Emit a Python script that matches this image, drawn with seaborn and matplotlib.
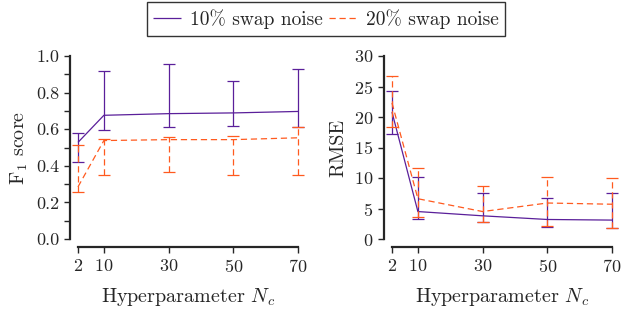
import numpy as np
import pandas as pd
import matplotlib
matplotlib.use("Agg")
import matplotlib.pyplot as plt
import seaborn as sns
from matplotlib.ticker import MultipleLocator, FormatStrFormatter

# hyperparameter values
n_c = [2, 10, 30, 50, 70]

# F1 score, mean and error bar ends
f1_10 = [0.528, 0.676, 0.685, 0.689, 0.697]
f1_10_lo = [0.422, 0.595, 0.613, 0.616, 0.612]
f1_10_hi = [0.578, 0.916, 0.958, 0.865, 0.931]
f1_20 = [0.285, 0.538, 0.543, 0.543, 0.553]
f1_20_lo = [0.256, 0.347, 0.364, 0.349, 0.350]
f1_20_hi = [0.513, 0.549, 0.558, 0.564, 0.614]

# RMSE, mean and error bar ends
rmse_10 = [20.8, 4.5, 3.8, 3.2, 3.1]
rmse_10_lo = [17.2, 3.3, 2.8, 1.9, 1.85]
rmse_10_hi = [24.2, 10.2, 7.6, 6.7, 7.5]
rmse_20 = [22.3, 6.6, 4.5, 5.9, 5.7]
rmse_20_lo = [18.4, 3.6, 2.85, 2.2, 1.85]
rmse_20_hi = [26.8, 11.7, 8.7, 10.1, 10.0]

labels = ["10% swap noise", "20% swap noise"]
purple = "#5a1f9a"
orange = "#ff5a1f"

sns.set_style("ticks")
plt.rcParams["font.family"] = ["cmr10"]
plt.rcParams["mathtext.fontset"] = "cm"
plt.rcParams["axes.formatter.use_mathtext"] = True
plt.rcParams["font.size"] = 13
plt.rcParams["axes.labelsize"] = 14.5

fig = plt.figure(figsize=(6.22, 3.09), dpi=100)
ax1 = fig.add_axes([78 / 622, 1 - 239 / 309, 220 / 622, 183 / 309])
ax2 = fig.add_axes([392 / 622, 1 - 239 / 309, 220 / 622, 183 / 309])


def draw(ax, m10, lo10, hi10, m20, lo20, hi20, legend):
    df = pd.DataFrame({"n_c": n_c * 2,
                       "val": list(m10) + list(m20),
                       "series": [labels[0]] * 5 + [labels[1]] * 5})
    sns.lineplot(data=df, x="n_c", y="val", hue="series", style="series",
                 palette=[purple, orange], dashes=[(1, 0), (5, 3)],
                 linewidth=0.9, ax=ax, legend=legend)
    m10, m20 = np.array(m10), np.array(m20)
    for m, lo, hi, col, dashed in [(m10, lo10, hi10, purple, False),
                                   (m20, lo20, hi20, orange, True)]:
        eb = ax.errorbar(n_c, m, yerr=[m - np.array(lo), np.array(hi) - m],
                         fmt="none", ecolor=col, elinewidth=0.9, capsize=4,
                         capthick=0.9)
        for art in eb[1] + eb[2]:
            art.set_clip_on(False)
        if dashed:
            eb[2][0].set_linestyle((0, (5, 3)))
    for ln in ax.lines:
        ln.set_clip_on(False)
    ax.set_xlim(2, 70)
    ax.set_xticks(n_c)
    ax.set_xlabel("Hyperparameter $N_c$", labelpad=8)
    sns.despine(ax=ax, offset=6)
    ax.spines["left"].set_linewidth(1.6)
    ax.spines["bottom"].set_linewidth(1.6)
    ax.tick_params(width=1.0, length=4)


draw(ax1, f1_10, f1_10_lo, f1_10_hi, f1_20, f1_20_lo, f1_20_hi, True)
ax1.set_ylim(0, 1)
ax1.yaxis.set_major_locator(MultipleLocator(0.2))
ax1.yaxis.set_minor_locator(MultipleLocator(0.1))
ax1.yaxis.set_major_formatter(FormatStrFormatter("%.1f"))
ax1.tick_params(which="minor", length=4, width=1.0)
ax1.set_ylabel("F$_1$ score")

draw(ax2, rmse_10, rmse_10_lo, rmse_10_hi, rmse_20, rmse_20_lo, rmse_20_hi, False)
ax2.set_ylim(0, 30)
ax2.yaxis.set_major_locator(MultipleLocator(5))
ax2.set_ylabel("RMSE", labelpad=5)

handles, labs = ax1.get_legend_handles_labels()
ax1.get_legend().remove()
leg = fig.legend(handles, labs, loc="upper center", bbox_to_anchor=(0.524, 1.005),
                 ncol=2, frameon=True, fancybox=False, edgecolor="black",
                 fontsize=14, handlelength=1.4, columnspacing=0.3,
                 handletextpad=0.5, borderpad=0.35, borderaxespad=0.2)
leg.get_frame().set_linewidth(1.0)

fig.savefig("out.png", dpi=100)
